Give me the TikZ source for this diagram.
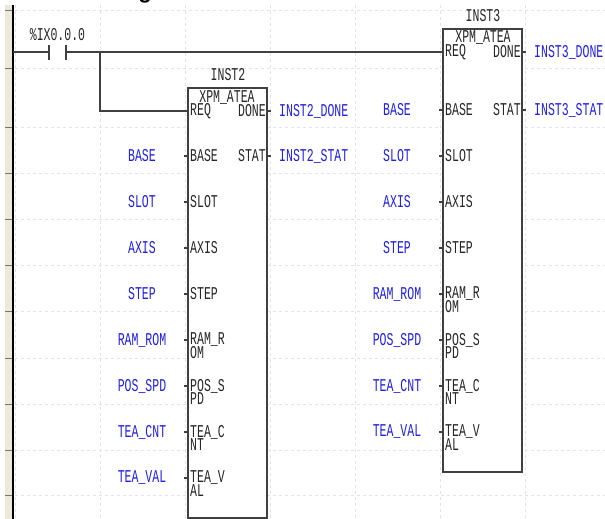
\documentclass[tikz,border=0pt]{standalone}
\usepackage{fontspec}
\newfontfamily\plc[FakeStretch=0.64]{Liberation Mono}
\definecolor{railbg}{HTML}{ECE9D8}
\definecolor{gridc}{HTML}{E2E2F6}
\definecolor{wirec}{HTML}{404040}
\definecolor{varc}{HTML}{2020E0}
\tikzset{
  wire/.style={draw=wirec,line width=1.1pt},
  fb/.style={draw=wirec,line width=1.1pt,fill=white,rectangle,inner sep=0pt},
  txt/.style={font=\plc\fontsize{18}{13}\selectfont,text=black!85,inner sep=0pt,align=left},
  var/.style={font=\plc\fontsize{18}{13}\selectfont,text=varc,inner sep=0pt},
  griddash/.style={draw=gridc,line width=0.8pt,dash pattern=on 3pt off 3pt},
}
\begin{document}
\begin{tikzpicture}[x=1pt,y=-1pt]
\useasboundingbox (0,0) rectangle (605,519);
\fill[white] (0,0) rectangle (605,519);
% rail
\fill[railbg] (5,5) rectangle (12,519);
\foreach \y in {10,68,127,173,219,265,311,358,404,450,495}{
  \draw[griddash] (15,\y) -- (605,\y);
  \draw[draw=black!55,line width=0.8pt] (5,\y) -- (12,\y);
}
\foreach \x in {15,100,185,270,355,440,525}{
  \draw[griddash] (\x,5) -- (\x,519);
}
\draw[black,line width=2.2pt] (13,5) -- (13,519);
\begin{scope}
\clip (130,0) rectangle (160,3.5);
\node[font=\fontspec{Liberation Sans}\bfseries\fontsize{22}{22}\selectfont,inner sep=0pt] (cut) at (145,-5) {g};
\end{scope}
% function blocks
\node[fb,minimum width=79pt,minimum height=430pt] (b2) at (227.5,303) {};
\node[fb,minimum width=79pt,minimum height=443pt] (b3) at (482.5,250.5) {};
\node[txt] (i2) at (228,75) {INST2};
\node[txt] (i3) at (483,16) {INST3};
\node[txt] (t2) at (227,98) {XPM\_ATEA};
\node[txt] (t3) at (483,38) {XPM\_ATEA};
% contact
\coordinate (rail) at (13,52);
\coordinate (cl) at (49,52);
\coordinate (cr) at (66,52);
\coordinate (bj) at (100,52);
\node[txt] (cn) at (57.5,35) {\%IX0.0.0};
\draw[wire] (rail) -- (cl);
\draw[wire] (cr) -- (bj);
\draw[wire] (49,45) -- (49,60);
\draw[wire] (66,45) -- (66,60);
% pins
\newcommand{\pinin}[5]{% x of box, y, pin text, var text, var x
  \node[txt,anchor=west] (p#1#2) at (#1+2,#2) {#3};
  \node[var] (v#1#2) at (#5,#2) {#4};
  \draw[wire] (#1-4,#2) -- (#1,#2);
}
\newcommand{\pinout}[4]{% right x, y, text, var
  \node[txt,anchor=east] (q#1#2) at (#1-1,#2) {#3};
  \node[var,anchor=west] (o#1#2) at (#1+12,#2) {#4};
  \draw[wire] (#1,#2) -- (#1+4,#2);
}
\node[txt,anchor=west] (r2) at (190,111) {REQ};
\node[txt,anchor=west] (r3) at (445,52) {REQ};
\coordinate (r2w) at (b2.west |- r2);
\coordinate (r3w) at (b3.west |- r3);
\draw[wire] (bj) -- (r3w);
\draw[wire] (bj) -- (100,111) -- (r2w);
\pinout{267}{111}{DONE}{INST2\_DONE}
\pinout{267}{156}{STAT}{INST2\_STAT}
\pinout{522}{52}{DONE}{INST3\_DONE}
\pinout{522}{110}{STAT}{INST3\_STAT}
\pinin{188}{156}{BASE}{BASE}{142}
\pinin{188}{202}{SLOT}{SLOT}{142}
\pinin{188}{248}{AXIS}{AXIS}{142}
\pinin{188}{294}{STEP}{STEP}{142}
\pinin{443}{110}{BASE}{BASE}{397}
\pinin{443}{156}{SLOT}{SLOT}{397}
\pinin{443}{202}{AXIS}{AXIS}{397}
\pinin{443}{248}{STEP}{STEP}{397}
\newcommand{\pintwo}[6]{% x, y, line1, line2, var, var x
  \node[txt,anchor=west] (p#1#2) at (#1+2,#2) {#3};
  \node[txt,anchor=west] (s#1#2) at (#1+2,#2+13) {#4};
  \node[var] (v#1#2) at (#6,#2) {#5};
  \draw[wire] (#1-4,#2) -- (#1,#2);
}
\pintwo{188}{340}{RAM\_R}{OM}{RAM\_ROM}{142}
\pintwo{188}{386}{POS\_S}{PD}{POS\_SPD}{142}
\pintwo{188}{432}{TEA\_C}{NT}{TEA\_CNT}{142}
\pintwo{188}{478}{TEA\_V}{AL}{TEA\_VAL}{142}
\pintwo{443}{294}{RAM\_R}{OM}{RAM\_ROM}{397}
\pintwo{443}{340}{POS\_S}{PD}{POS\_SPD}{397}
\pintwo{443}{386}{TEA\_C}{NT}{TEA\_CNT}{397}
\pintwo{443}{432}{TEA\_V}{AL}{TEA\_VAL}{397}
\end{tikzpicture}
\end{document}
